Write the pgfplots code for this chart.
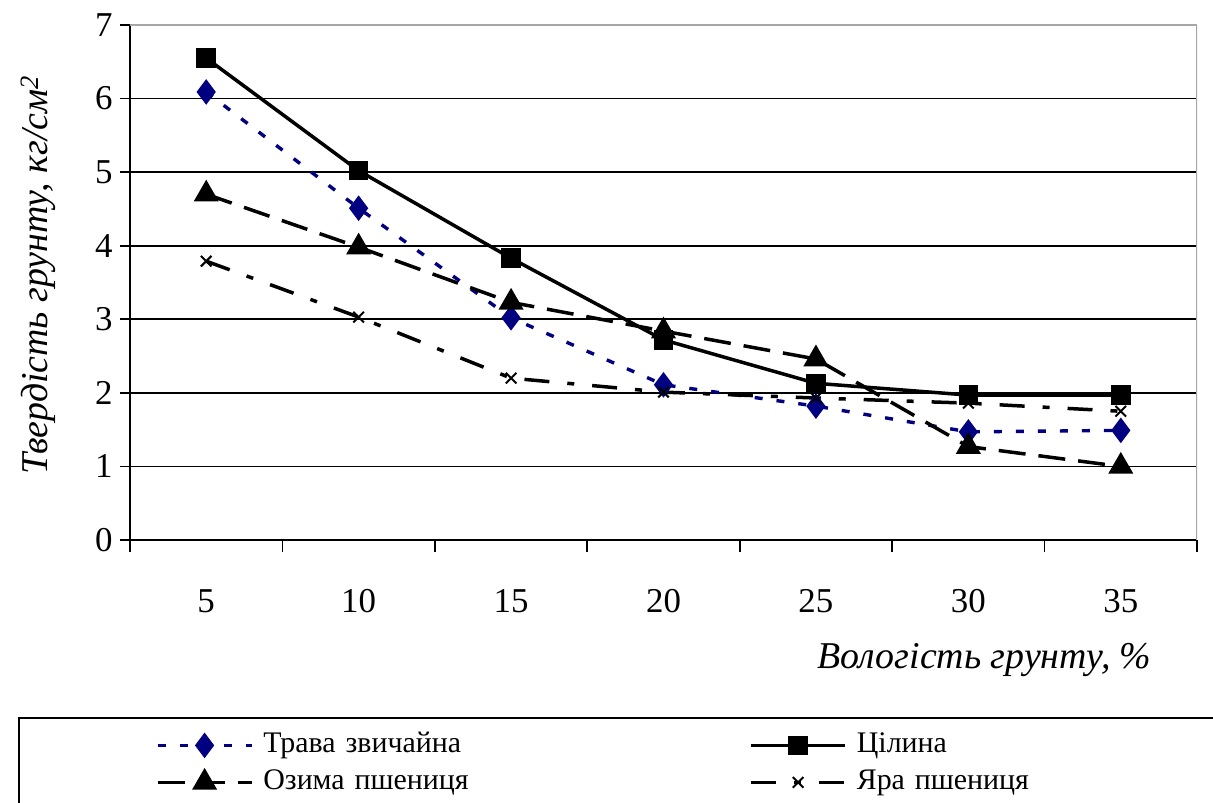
\documentclass[border=0pt]{standalone}
\usepackage{fontspec}
\setmainfont{Liberation Serif}
\usepackage{pgfplots}
\pgfplotsset{compat=1.18}
\definecolor{navyb}{RGB}{0,0,128}
\begin{document}
\begin{tikzpicture}
\begin{axis}[
 at={(0,0)}, anchor=south west,
 scale only axis, width=1067bp, height=515bp,
 xmin=0.5, xmax=7.5, ymin=0, ymax=7,
 axis x line*=bottom, axis y line*=left,
 axis line style={line width=1.8bp, black},
 xtick={1,...,7}, xticklabels={5,10,15,20,25,30,35},
 major x tick style={draw=none},
 minor xtick={0.5,1.5,...,7.5},
 minor tick length=12bp,
 major tick length=10bp,
 tick align=outside,
 tick style={black, line width=1.8bp},
 ytick={0,...,6}, extra y ticks={7},
 ymajorgrids, grid style={black, line width=1.8bp},
 extra y tick style={grid style={gray!70, line width=2bp}},
 ticklabel style={font=\fontsize{35}{40}\selectfont},
 xticklabel style={yshift=-36bp},
 yticklabel style={xshift=-4bp},
 /pgf/number format/assume math mode=true,
 xlabel={\itshape Вологість грунту, \%},
 xlabel style={at={(rel axis cs:0.801,-0.233)}, anchor=center, font=\fontsize{38}{44}\selectfont},
 ylabel={\itshape Твердість грунту, кг/см\textsuperscript{2}},
 ylabel style={at={(rel axis cs:-0.0862,0.5146)}, anchor=center, rotate=0, font=\fontsize{38}{44}\selectfont},
 legend columns=2,
 legend image code/.code={\draw[mark repeat=2,mark phase=2,#1] plot coordinates {(0bp,0bp) (47bp,0bp) (94bp,0bp)};},
 legend style={at={(rel axis cs:-0.105,-0.3437)}, anchor=north west,
   draw=black, line width=1.8bp,
   font=\fontsize{30}{34}\selectfont,
   inner xsep=137bp, inner ysep=13bp, row sep=8bp,
   nodes={inner sep=0pt, text height=22bp, text depth=7bp, text width=470bp, align=left},
   /tikz/every odd column/.style={column sep=10bp},
   /tikz/every even column/.style={column sep=16bp}},
 legend cell align=left,
]
\addplot[navyb, line width=3.4bp, dash pattern=on 8bp off 14bp,
  mark=diamond*, mark size=10bp, mark options={solid, fill=navyb, draw=navyb}]
  coordinates {(1,6.09) (2,4.51) (3,3.02) (4,2.11) (5,1.82) (6,1.47) (7,1.49)};
\addlegendentry{Трава звичайна}
\addplot[black, line width=3.5bp, solid,
  mark=square*, mark size=8bp, mark options={solid, fill=black}]
  coordinates {(1,6.55) (2,5.02) (3,3.83) (4,2.72) (5,2.13) (6,1.97) (7,1.97)};
\addlegendentry{Цілина}
\addplot[black, line width=3.5bp, dash pattern=on 27bp off 13bp,
  mark=triangle*, mark size=11bp, mark options={solid, fill=black}]
  coordinates {(1,4.70) (2,3.98) (3,3.23) (4,2.84) (5,2.46) (6,1.27) (7,1.00)};
\addlegendentry{Озима пшениця}
\addplot[black, line width=3.5bp, dash pattern=on 25bp off 18bp on 7bp off 18bp,
  mark=x, mark size=7.5bp, mark options={solid, line width=2bp}]
  coordinates {(1,3.79) (2,3.03) (3,2.20) (4,2.01) (5,1.93) (6,1.86) (7,1.75)};
\addlegendentry{Яра пшениця}
\draw[gray!70, line width=2bp] (rel axis cs:1,0) -- (rel axis cs:1,1);
\end{axis}
\pgfresetboundingbox
\path[use as bounding box] (-130bp,-263bp) rectangle (1083bp,540bp);
\end{tikzpicture}
\end{document}
